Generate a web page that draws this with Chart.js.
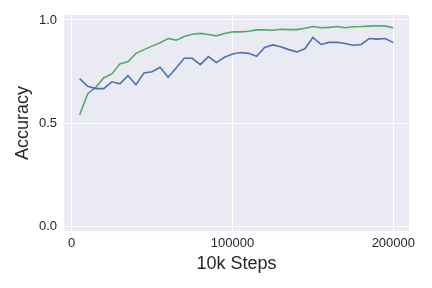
<!DOCTYPE html>
<html>
<head>
<meta charset="utf-8">
<script src="https://cdn.jsdelivr.net/npm/chart.js@4"></script>
<style>
  html, body { margin: 0; padding: 0; background: #fff; }
  #wrap { width: 432px; height: 288px; }
</style>
</head>
<body>
<div id="wrap"><canvas id="accChart" width="432" height="288"></canvas></div>
<script>
// steps (5000 .. 200000)
const steps = [5000, 10000, 15000, 20000, 25000, 30000, 35000, 40000, 45000, 50000,
  55000, 60000, 65000, 70000, 75000, 80000, 85000, 90000, 95000, 100000,
  105000, 110000, 115000, 120000, 125000, 130000, 135000, 140000, 145000, 150000,
  155000, 160000, 165000, 170000, 175000, 180000, 185000, 190000, 195000, 200000];

const blueAcc = [0.715, 0.678, 0.667, 0.667, 0.700, 0.690, 0.730, 0.686, 0.743, 0.749,
  0.770, 0.722, 0.767, 0.814, 0.814, 0.783, 0.822, 0.793, 0.819, 0.835,
  0.842, 0.838, 0.824, 0.866, 0.879, 0.870, 0.856, 0.845, 0.860, 0.915,
  0.881, 0.891, 0.892, 0.886, 0.877, 0.881, 0.910, 0.907, 0.910, 0.890];

const greenAcc = [0.540, 0.642, 0.673, 0.720, 0.738, 0.787, 0.797, 0.838, 0.856, 0.873,
  0.889, 0.910, 0.902, 0.920, 0.931, 0.935, 0.929, 0.923, 0.934, 0.942,
  0.942, 0.945, 0.952, 0.952, 0.950, 0.955, 0.953, 0.953, 0.960, 0.968,
  0.962, 0.964, 0.968, 0.962, 0.967, 0.968, 0.970, 0.972, 0.970, 0.962];

const xTicks = [0, 100000, 200000];
const yTicks = [0, 0.5, 1.0];

const toPoints = (ys) => steps.map((s, i) => ({ x: s, y: ys[i] }));

// darkgrid style background for the plot area
const plotBg = {
  id: 'plotBg',
  beforeDraw(chart) {
    const { ctx, chartArea } = chart;
    ctx.save();
    ctx.fillStyle = '#EAEAF2';
    ctx.fillRect(chartArea.left, chartArea.top, chartArea.right - chartArea.left, chartArea.bottom - chartArea.top);
    ctx.restore();
  }
};

const ctx = document.getElementById('accChart').getContext('2d');
const accChart = new Chart(ctx, {
  type: 'line',
  data: {
    datasets: [{
      data: toPoints(blueAcc),
      borderColor: '#4C72B0',
      borderWidth: 1.6,
      pointRadius: 0,
      fill: false,
      tension: 0
    }, {
      data: toPoints(greenAcc),
      borderColor: '#55A868',
      borderWidth: 1.6,
      pointRadius: 0,
      fill: false,
      tension: 0
    }]
  },
  options: {
    responsive: false,
    animation: false,
    layout: { padding: { left: 0, top: 15, right: 23, bottom: 0 } },
    plugins: {
      legend: { display: false },
      tooltip: { enabled: false }
    },
    scales: {
      x: {
        type: 'linear',
        min: -4750,
        max: 209750,
        afterBuildTicks: (scale) => { scale.ticks = xTicks.map(v => ({ value: v })); },
        afterFit: (scale) => { scale.height = 57; },
        grid: { color: '#FFFFFF', lineWidth: 1, drawTicks: false },
        border: { display: false },
        ticks: {
          color: '#262626',
          padding: 5,
          font: { family: 'Liberation Sans', size: 13 },
          callback: (v) => String(v)
        },
        title: {
          display: true,
          text: '10k Steps',
          color: '#262626',
          font: { family: 'Liberation Sans', size: 18 },
          padding: { top: 0, bottom: 13 }
        }
      },
      y: {
        min: -0.024,
        max: 1.024,
        afterBuildTicks: (scale) => { scale.ticks = yTicks.map(v => ({ value: v })); },
        afterFit: (scale) => { scale.width = 64; },
        grid: { color: '#FFFFFF', lineWidth: 1, drawTicks: false },
        border: { display: false },
        ticks: {
          color: '#262626',
          padding: 7,
          font: { family: 'Liberation Sans', size: 13 },
          callback: (v) => v.toFixed(1)
        },
        title: {
          display: true,
          text: 'Accuracy',
          color: '#262626',
          font: { family: 'Liberation Sans', size: 18 },
          padding: { top: 12, bottom: 0 }
        }
      }
    }
  },
  plugins: [plotBg]
});
</script>
</body>
</html>
